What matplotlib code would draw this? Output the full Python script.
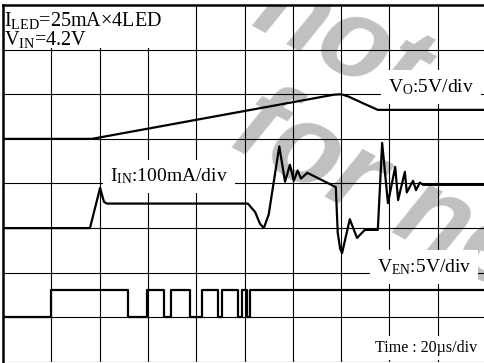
import matplotlib
matplotlib.use("Agg")
import matplotlib.pyplot as plt
from matplotlib.patches import Rectangle

plt.rcParams["font.family"] = ["Liberation Serif", "DejaVu Serif"]
plt.rcParams["mathtext.fontset"] = "stix"

# scope screen in divisions (10 x 8)
vo_t = [0, 1.84, 6.85, 7.0, 7.15, 7.45, 7.76, 10]
vo_v = [5.0, 5.0, 5.99, 6.0, 5.95, 5.8, 5.65, 5.65]

iin_t = [0, 1.80, 2.01, 2.09, 2.15, 5.07, 5.22, 5.32, 5.40, 5.50, 5.72, 5.84,
         5.94, 6.02, 6.10, 6.17, 6.30, 6.89, 6.93, 6.98, 7.02, 7.18, 7.33, 7.49,
         7.76, 7.85, 7.97, 8.12, 8.18, 8.32, 8.36, 8.49, 8.55, 8.63, 8.70, 10]
iin_v = [3.0, 3.0, 3.90, 3.59, 3.55, 3.55, 3.36, 3.10, 3.0, 3.3, 4.83, 4.04,
         4.42, 4.06, 4.29, 4.11, 4.24, 3.92, 2.90, 2.54, 2.44, 3.20, 2.78, 2.96,
         2.96, 4.91, 3.56, 4.37, 3.63, 4.26, 3.80, 4.06, 3.85, 4.02, 3.97, 3.97]

ven_t = [0, 0.99, 2.59, 2.98, 3.34, 3.47, 3.87, 4.11, 4.46, 4.53, 4.87, 4.94,
         5.05, 5.11, 10]
ven_v = [1.0, 1.62, 1.0, 1.62, 1.0, 1.62, 1.0, 1.62, 1.0, 1.62, 1.0, 1.62,
         1.0, 1.62, 1.62]

fig = plt.figure(figsize=(4.84, 3.63), dpi=100)
ax = fig.add_axes([3 / 484, 1 / 363, 483 / 484, 357 / 363])
ax.set_xlim(0, 10)
ax.set_ylim(0, 8)
ax.axis("off")

# watermark
wm = dict(color="#c0c0c0", fontsize=82, fontweight="bold", fontstyle="italic",
          family="Liberation Sans", rotation=-28, rotation_mode="anchor",
          ha="left", va="baseline", zorder=0, clip_on=True)
ax.text(5.08, 7.55, "not", **wm)
ax.text(4.65, 4.85, "for new", **wm)

for x in range(1, 10):
    ax.axvline(x, color="black", lw=0.8, zorder=1)
for y in range(0, 8):
    ax.axhline(y, color="black", lw=0.8, zorder=1)
ax.axvline(0, color="black", lw=1.8, zorder=4, clip_on=False)
ax.axhline(8, color="black", lw=1.8, zorder=4, clip_on=False)

ax.plot(vo_t, vo_v, color="black", lw=1.6, zorder=3, solid_joinstyle="round")
ax.plot(iin_t, iin_v, color="black", lw=1.6, zorder=3, solid_joinstyle="round")
ax.step(ven_t, ven_v, where="post", color="black", lw=1.6, zorder=3)

ax.add_patch(Rectangle((0, 7.03), 3.3, 0.97, facecolor="white",
                       edgecolor="none", zorder=2))
ax.text(0.03, 7.52, r"$\mathregular{I_{LED}}$=25mA×4LED", fontsize=14.5,
        va="baseline", zorder=5)
ax.text(0.03, 7.11, r"$\mathregular{V_{IN}}$=4.2V", fontsize=14.5,
        va="baseline", zorder=5)

box = dict(facecolor="white", edgecolor="none", pad=5)
ax.text(7.97, 6.05, r"$\mathregular{V_{O}}$:5V/div", fontsize=14,
        va="baseline", zorder=2, bbox=box)
ax.text(2.22, 4.04, r"$\mathregular{I_{IN}}$:100mA/div", fontsize=14,
        va="baseline", zorder=2, bbox=box)
ax.text(7.74, 2.02, r"$\mathregular{V_{EN}}$:5V/div", fontsize=14,
        va="baseline", zorder=2, bbox=box)
ax.text(7.70, 0.23, "Time : 20µs/div", fontsize=11.5, va="baseline",
        zorder=2, bbox=dict(facecolor="white", edgecolor="none", pad=3))

fig.savefig("out.png", dpi=100)
